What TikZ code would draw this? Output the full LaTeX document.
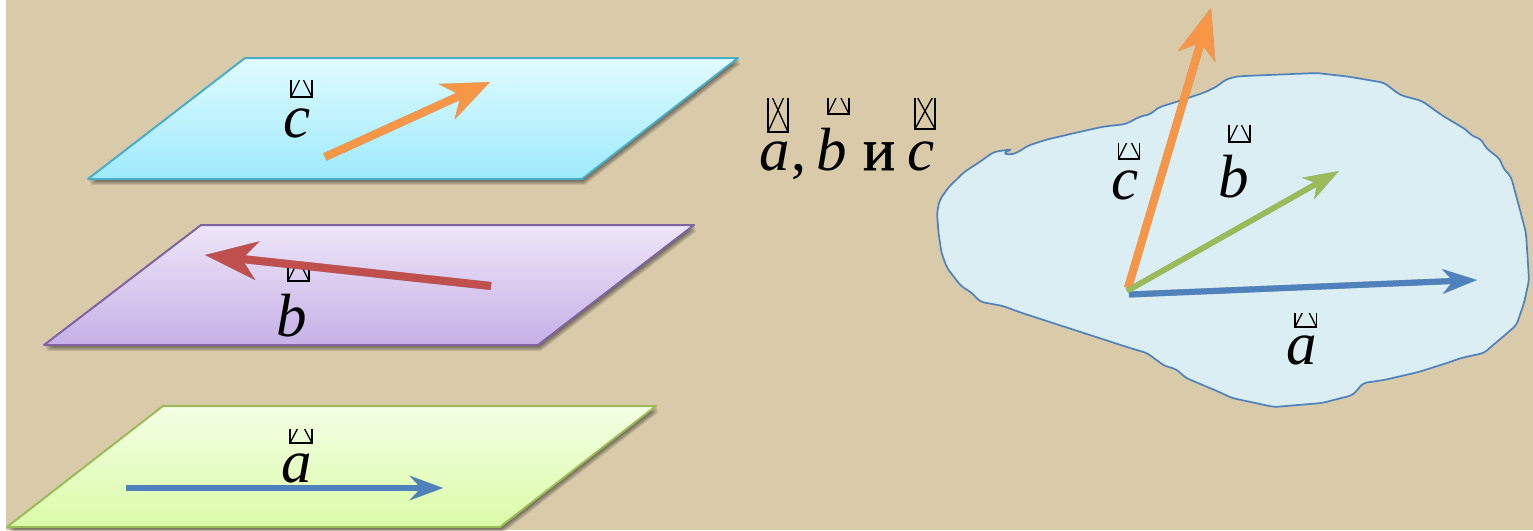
\documentclass[tikz,border=0pt]{standalone}
\usepackage{fontspec}
\setmainfont{Liberation Serif}
\newfontfamily\ifont[FakeBold=0.9]{Liberation Serif}
\usetikzlibrary{arrows.meta}
\definecolor{bgtan}{HTML}{D9CAAA}
\definecolor{cedge}{HTML}{4BACC6}
\definecolor{bedge}{HTML}{8064A2}
\definecolor{aedge}{HTML}{9BBB59}
\definecolor{vorange}{HTML}{F79646}
\definecolor{vred}{HTML}{C0504D}
\definecolor{vblue}{HTML}{4F81BD}
\definecolor{vgreen}{HTML}{9BBB59}
\definecolor{blobfill}{HTML}{DBEEF4}
\definecolor{ctop}{HTML}{E0FBFF}\definecolor{cbot}{HTML}{9EEAFC}
\definecolor{btop}{HTML}{EEE6F9}\definecolor{bbot}{HTML}{C6B0E6}
\definecolor{atop}{HTML}{F3FFE4}\definecolor{abot}{HTML}{DBFBA8}
\tikzset{
  x=1pt,y=-1pt,
  letter/.style={font=\fontsize{61}{61}\selectfont\itshape,anchor=base,inner sep=0pt,text=black},
  upright/.style={font=\fontsize{60}{60}\selectfont,anchor=base,inner sep=0pt,text=black},
  plane/.style={line width=2pt,line join=round},
  blob/.style={fill=blobfill,draw=vblue,line width=1.7pt,line join=round,rounded corners=4pt},
  tofuline/.style={draw=black,line width=1.3pt},
}
% soft shadow of a closed path
\newcommand{\planeshadow}[1]{%
  \foreach \k in {0,1,2,3,4,5}{
    \fill[black,opacity=0.1,xshift=0.8pt+0.4*\k pt,yshift=-1pt-1.0*\k pt] #1;
  }}
% arrow with soft shadow: colour, width, head length, head width, inset, from, to
\newcommand{\vectorarrow}[7]{%
  \foreach \k in {0,1,2,3}{
    \draw[black,opacity=0.08,line width=#2,-{Stealth[length=#3,width=#4,inset=#5]},
      xshift=1pt+1.1*\k pt,yshift=-1pt-1.1*\k pt] (#6) -- (#7);
  }
  \draw[#1,line width=#2,-{Stealth[length=#3,width=#4,inset=#5]}] (#6) -- (#7);
}
% clipped missing-glyph box: left, right, bottom, top of visible part, full height
\newcommand{\tofu}[5]{%
  \begin{scope}
    \clip (#1-1,#4) rectangle (#2+1,#3+1);
    \draw[tofuline] (#1,#3-#5) rectangle (#2,#3);
    \draw[tofuline] (#1,#3) -- (#2,#3-#5);
    \draw[tofuline] (#2,#3) -- (#1,#3-#5);
  \end{scope}}
\begin{document}
\begin{tikzpicture}
\useasboundingbox (0,0) rectangle (1533,530);
\fill[white] (0,0) rectangle (1533,530);
\fill[bgtan] (6,0) rectangle (1533,530);

% planes
\planeshadow{(245,58) -- (738,58) -- (582,179) -- (88,179) -- cycle}
\draw[plane,draw=cedge,top color=ctop,bottom color=cbot] (245,58) -- (738,58) -- (582,179) -- (88,179) -- cycle;
\planeshadow{(201,225) -- (694,225) -- (538,345) -- (44,345) -- cycle}
\draw[plane,draw=bedge,top color=btop,bottom color=bbot] (201,225) -- (694,225) -- (538,345) -- (44,345) -- cycle;
\planeshadow{(163,406) -- (656,406) -- (500,527) -- (7,527) -- cycle}
\draw[plane,draw=aedge,top color=atop,bottom color=abot] (163,406) -- (656,406) -- (500,527) -- (7,527) -- cycle;

% blob
\draw[blob] (993.5,152) -- (1012.7,149) -- (1003,153) -- (1009,155) -- (1016.5,153) -- (1028,145.7) -- (1045,140) -- (1076,132.7) -- (1103,126.7) -- (1126,124) -- (1139.6,116.7) -- (1151,114) -- (1157.7,107.7) -- (1180,100.7) -- (1205,92.3) -- (1216.5,86.7) -- (1226,79.3) -- (1237.7,76.3) -- (1316.5,73) -- (1349,76.7) -- (1384,82.7) -- (1400,95) -- (1422,101) -- (1441.5,115) -- (1466.5,130) -- (1472,136) -- (1481,139) -- (1486,148) -- (1500,159) -- (1503,168) -- (1511,176.7) -- (1520,210) -- (1526,233) -- (1529,280) -- (1524,303) -- (1516.5,325) -- (1505,335) -- (1499,340) -- (1484,353) -- (1461,358) -- (1447,363) -- (1418.5,372) -- (1384,380) -- (1363,383) -- (1353,395) -- (1322,403) -- (1274,407) -- (1232,398) -- (1214.6,390) -- (1186,378) -- (1176,369) -- (1164.6,366) -- (1147,353) -- (1130,348) -- (1022,313) -- (1003,306) -- (980,301.7) -- (972,293) -- (961,286) -- (947,268) -- (941.5,253) -- (938.5,233) -- (937,213) -- (939.6,200) -- (949,186.7) -- (964.6,171.7) -- (980,161.7) -- cycle;

% missing-glyph marks
\tofu{291}{312}{97}{80}{42}
\tofu{288}{309}{281}{264}{42}
\tofu{290}{312}{443}{429}{42}
\tofu{768}{788}{132}{98}{44}
\tofu{828}{849}{114}{98}{42}
\tofu{915}{935}{129}{98}{36}
\tofu{1118.5}{1139.6}{159}{143}{42}
\tofu{1229}{1250}{142}{125}{42}
\tofu{1295}{1316.5}{327}{313}{42}

% letters
\node[letter] (lc) at (297.5,137) {c};
\node[letter] (lb) at (292,336) {b};
\node[letter] (la) at (296.5,482) {a};
\node[letter] (ta) at (774.5,170) {a};
\node[upright] (tcomma) at (799,170) {,};
\node[letter] (tb) at (832,170) {b};
\node[upright] (ti) at (879,170) {\ifont и};
\node[letter] (tc) at (921,170) {c};
\node[letter] (rc) at (1125,199) {c};
\node[letter] (rb) at (1233.5,197) {b};
\node[letter] (ra) at (1302,364) {a};

% vector end points
\coordinate (c1) at (325,157); \coordinate (c2) at (490,82);
\coordinate (b1) at (491,286); \coordinate (b2) at (205,255);
\coordinate (a1) at (126,488); \coordinate (a2) at (443,488);
\coordinate (ra1) at (1129,294.5); \coordinate (ra2) at (1477,280);
\coordinate (rc1) at (1128,288); \coordinate (rc2) at (1211,8);
\coordinate (rb1) at (1127,291); \coordinate (rb2) at (1339,171);

% vectors
\vectorarrow{vorange}{8pt}{47pt}{38pt}{15pt}{c1}{c2}
\vectorarrow{vred}{8pt}{52pt}{38pt}{15pt}{b1}{b2}
\vectorarrow{vblue}{5.5pt}{33pt}{24pt}{11pt}{a1}{a2}
\vectorarrow{vblue}{6pt}{34pt}{24pt}{10pt}{ra1}{ra2}
\vectorarrow{vorange}{8pt}{50pt}{38pt}{14pt}{rc1}{rc2}
\vectorarrow{vgreen}{5.5pt}{35pt}{24pt}{10pt}{rb1}{rb2}
\end{tikzpicture}
\end{document}
